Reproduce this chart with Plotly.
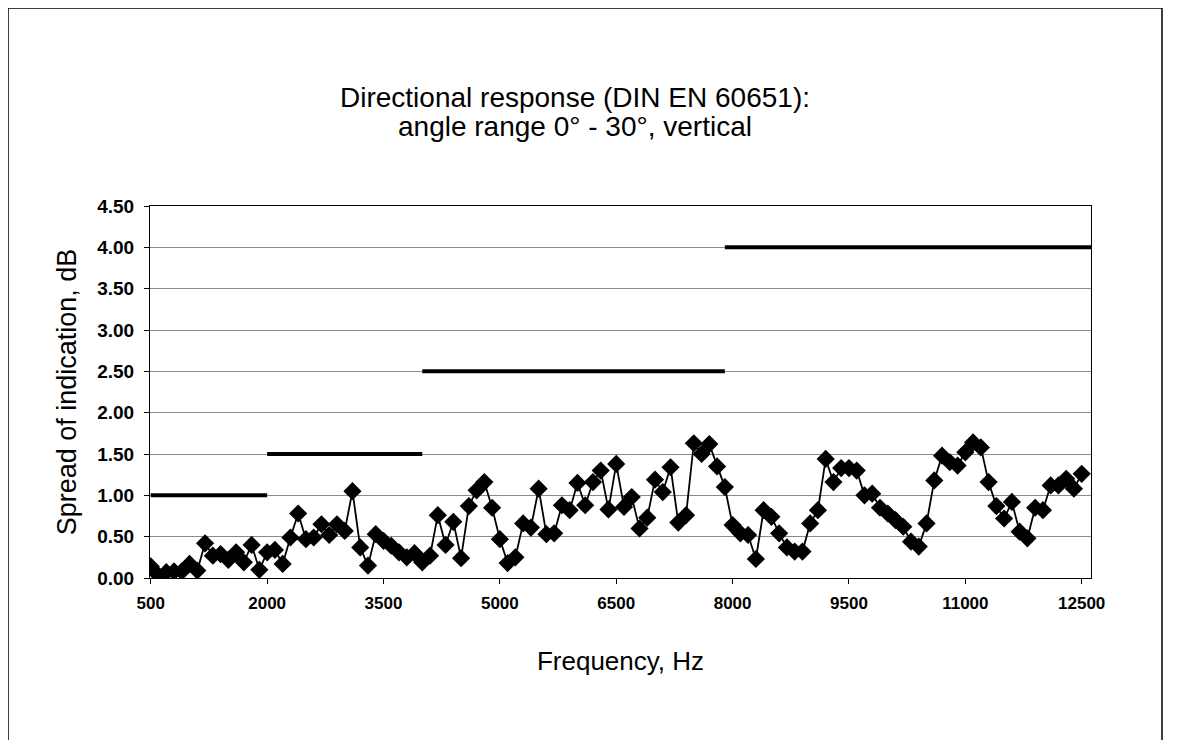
import plotly.graph_objects as go

# measured points every 100 Hz from 500 Hz to 12500 Hz
freq_hz = list(range(500, 12600, 100))
spread_db = [
    0.14, 0.03, 0.07, 0.08, 0.08, 0.17, 0.09, 0.42, 0.27, 0.29,
    0.22, 0.31, 0.19, 0.40, 0.10, 0.31, 0.34, 0.17, 0.49, 0.78,
    0.47, 0.49, 0.65, 0.52, 0.65, 0.57, 1.05, 0.37, 0.15, 0.53,
    0.45, 0.39, 0.31, 0.25, 0.30, 0.19, 0.27, 0.76, 0.40, 0.68,
    0.24, 0.87, 1.06, 1.16, 0.85, 0.47, 0.18, 0.25, 0.66, 0.61,
    1.08, 0.53, 0.54, 0.88, 0.82, 1.15, 0.88, 1.16, 1.30, 0.83,
    1.38, 0.86, 0.98, 0.60, 0.73, 1.19, 1.04, 1.34, 0.67, 0.76,
    1.63, 1.50, 1.62, 1.35, 1.10, 0.64, 0.54, 0.52, 0.23, 0.82,
    0.74, 0.54, 0.37, 0.32, 0.32, 0.66, 0.82, 1.44, 1.16, 1.33,
    1.33, 1.30, 1.00, 1.02, 0.85, 0.78, 0.70, 0.62, 0.44, 0.38,
    0.66, 1.18, 1.48, 1.40, 1.36, 1.52, 1.64, 1.58, 1.16, 0.87,
    0.72, 0.92, 0.56, 0.48, 0.85, 0.82, 1.12, 1.12, 1.20, 1.08,
    1.26,
]

# tolerance limits (start Hz, end Hz, dB)
limit_start = [500, 2000, 4000, 7900]
limit_end = [2000, 4000, 7900, 12620]
limit_db = [1.0, 1.5, 2.5, 4.0]

x_ticks = [500, 2000, 3500, 5000, 6500, 8000, 9500, 11000, 12500]
x_ticktext = ["500", "2000", "3500", "5000", "6500", "8000", "9500", "11000", "12500"]
y_ticks = [0.0, 0.5, 1.0, 1.5, 2.0, 2.5, 3.0, 3.5, 4.0, 4.5]

FONT = "Arial, Liberation Sans, sans-serif"

# plot area in figure pixels
L, R, T, B = 142, 1083, 198, 570
W, H = R - L, B - T

fig = go.Figure()

for x0, x1, lim in zip(limit_start, limit_end, limit_db):
    fig.add_trace(go.Scatter(
        x=[x0, x1], y=[lim, lim], mode="lines",
        line=dict(color="black", width=4),
        showlegend=False, hoverinfo="skip",
    ))

fig.add_trace(go.Scatter(
    x=freq_hz, y=spread_db, mode="lines+markers",
    line=dict(color="black", width=1.8),
    marker=dict(symbol="diamond", size=14, color="black"),
    showlegend=False,
))

fig.update_layout(
    width=1181, height=740,
    margin=dict(l=L, r=1181 - R, t=T, b=740 - B, autoexpand=False),
    paper_bgcolor="white", plot_bgcolor="white",
    font=dict(family=FONT, color="black"),
    xaxis=dict(
        range=[490, 12620], tickvals=x_ticks, ticktext=x_ticktext,
        tickfont=dict(size=17, weight="bold"), ticklabelstandoff=5,
        showgrid=False, zeroline=False,
        showline=True, linecolor="black", linewidth=1, mirror=True,
        ticks="outside", ticklen=5, tickcolor="black",
        title=dict(text="Frequency, Hz", font=dict(size=26), standoff=39),
        automargin=False,
    ),
    yaxis=dict(
        range=[0, 4.5], tickvals=y_ticks, tickformat=".2f",
        tickfont=dict(size=19, weight="bold"), ticklabelstandoff=6,
        showgrid=True, gridcolor="#8a8a8a", gridwidth=1,
        zeroline=False,
        showline=True, linecolor="black", linewidth=1, mirror=True,
        ticks="outside", ticklen=5, tickcolor="black",
        title=dict(text="Spread of indication, dB", font=dict(size=27), standoff=12),
        automargin=False,
    ),
)

# two-line chart title centred on the chart frame
title_lines = ["Directional response (DIN EN 60651):", "angle range 0° - 30°, vertical"]
for line_text, y_px in zip(title_lines, [89, 119]):
    fig.add_annotation(
        text=line_text, xref="paper", yref="paper",
        x=(567 - L) / W, y=1 + (T - y_px) / H,
        xanchor="center", yanchor="middle", showarrow=False,
        font=dict(size=28, family=FONT),
    )

# outer chart frame
fig.add_shape(
    type="rect", xref="paper", yref="paper",
    x0=(0 - L) / W, x1=(1154 - L) / W,
    y0=-(745 - B) / H, y1=1 + (T - 0) / H,
    line=dict(color="black", width=1.5),
)

fig.write_html("out.html")
